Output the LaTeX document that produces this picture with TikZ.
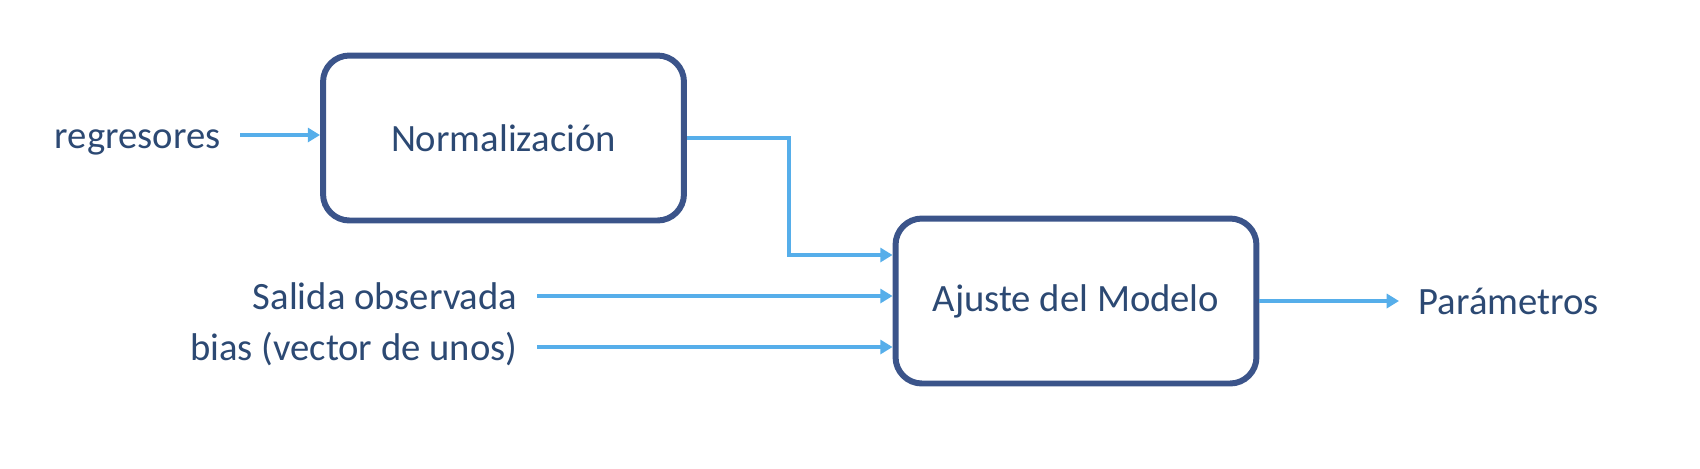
\documentclass[tikz,border=0pt]{standalone}
\usepackage{fontspec}
\setmainfont{Carlito}
\usepackage{tikz}
\usetikzlibrary{arrows.meta, calc}

\definecolor{bordeazul}{RGB}{59,84,138}
\definecolor{textoazul}{RGB}{44,73,115}
\definecolor{flechaazul}{RGB}{86,174,234}

\tikzset{
  bloque/.style={draw=bordeazul, line width=3.4pt, rounded corners=15pt,
    minimum width=7.22cm, minimum height=3.3cm, text=textoazul},
  etiqueta/.style={text=textoazul, inner xsep=11pt, text height=15pt, text depth=0pt},
  flecha/.style={draw=flechaazul, line width=2.2pt, -{Triangle[length=7pt, width=8pt]}}
}

\begin{document}
\begin{tikzpicture}[x=0.02cm, y=-0.02cm, font=\fontsize{22}{26}\selectfont]
  \useasboundingbox (0,0) rectangle (1700,468);

  % Bloques
  \node[bloque] (norm) at (503.5,138) {Normalización};
  \node[bloque] (ajuste) at (1076,301) {Ajuste del Modelo};

  % Entradas y salida
  \node[etiqueta, anchor=east] (regresores) at (240,135) {regresores};
  \node[etiqueta, anchor=east] (salida) at (537,296) {Salida observada};
  \node[etiqueta, anchor=east] (bias) at (537,347) {bias (vector de unos)};
  \node[etiqueta, anchor=west] (param) at (1399,301) {Parámetros};

  % Flechas
  \draw[flecha] (regresores.east) -- (regresores.east -| norm.west);
  \draw[flecha] (norm.east) -- ++(102,0) |- ($(ajuste.west)+(0,-46)$);
  \draw[flecha] (salida.east) -- (salida.east -| ajuste.west);
  \draw[flecha] (bias.east) -- (bias.east -| ajuste.west);
  \draw[flecha] (ajuste.east) -- (ajuste.east -| param.west);
\end{tikzpicture}
\end{document}
